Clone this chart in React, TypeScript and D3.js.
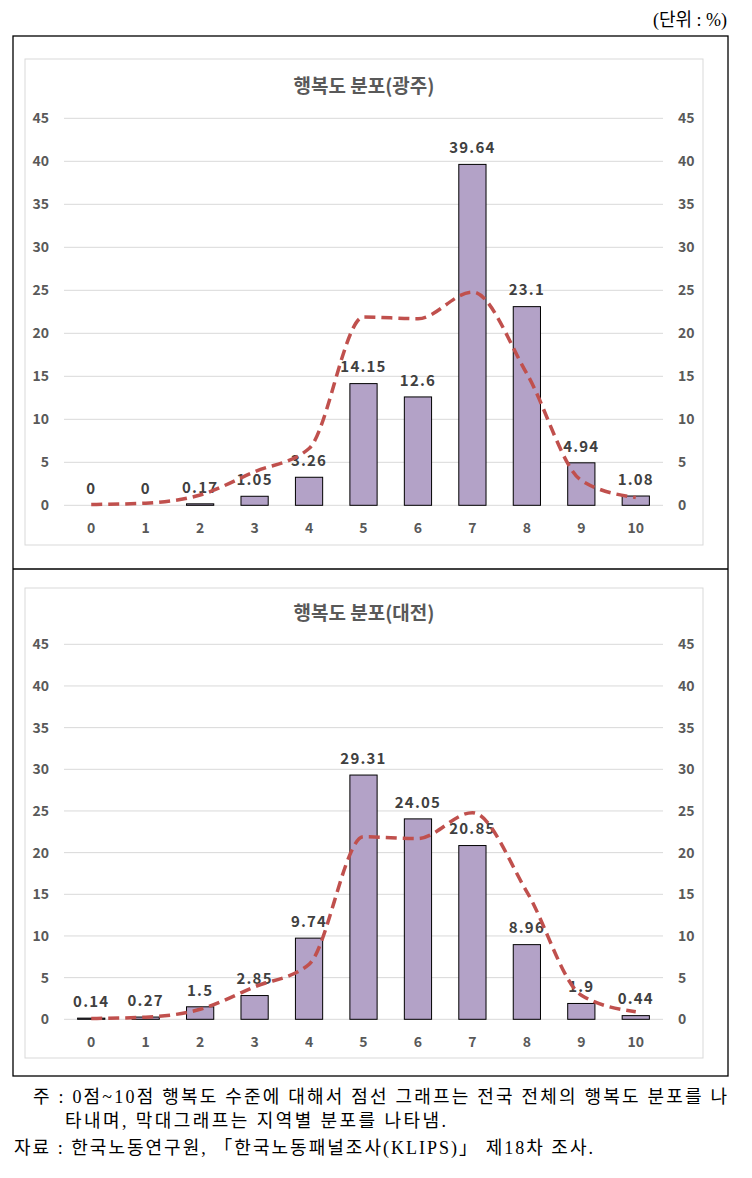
import React from "react";
import * as d3 from "d3";

const categories = ["0", "1", "2", "3", "4", "5", "6", "7", "8", "9", "10"];
const gwangjuValues = [0, 0, 0.17, 1.05, 3.26, 14.15, 12.6, 39.64, 23.1, 4.94, 1.08];
const daejeonValues = [0.14, 0.27, 1.5, 2.85, 9.74, 29.31, 24.05, 20.85, 8.96, 1.9, 0.44];
const nationalValues = [0.1, 0.25, 1.2, 3.9, 6.6, 21.9, 21.7, 24.8, 15.3, 2.9, 0.9];
const yTicks = [0, 5, 10, 15, 20, 25, 30, 35, 40, 45];
const titleGwangju = "행복도 분포(광주)";
const titleDaejeon = "행복도 분포(대전)";
const unitText = "(단위 : %)";
const note1 = "주 : 0점~10점 행복도 수준에 대해서 점선 그래프는 전국 전체의 행복도 분포를 나";
const note2 = "타내며, 막대그래프는 지역별 분포를 나타냄.";
const note3 = "자료 : 한국노동연구원, 「한국노동패널조사(KLIPS)」 제18차 조사.";

const SANS = "'Noto Sans CJK KR', 'Noto Sans', sans-serif";
const SERIF = "'Liberation Serif', 'DejaVu Serif', 'Noto Sans CJK KR', serif";

type ChartProps = {
  title: string;
  values: number[];
  frameTop: number;
  frameBottom: number;
  titleY: number;
  plotTop: number;
  plotBottom: number;
};

function Chart({ title, values, frameTop, frameBottom, titleY, plotTop, plotBottom }: ChartProps) {
  const x = d3.scaleBand<string>().domain(categories).range([64, 663]).paddingInner(0.5).paddingOuter(0.25);
  const y = d3.scaleLinear().domain([0, 45]).range([plotBottom, plotTop]);
  const line = d3
    .line<number>()
    .x((_, i) => (x(categories[i]) as number) + x.bandwidth() / 2)
    .y((d) => y(d))
    .curve(d3.curveMonotoneX);
  return (
    <g>
      <rect x={25} y={frameTop} width={678} height={frameBottom - frameTop} fill="#fff" stroke="#d9d9d9" strokeWidth={1} />
      <text x={364} y={titleY} dy="0.35em" textAnchor="middle" fontFamily={SANS} fontWeight={700} fontSize={19} fill="#595959">
        {title}
      </text>
      {yTicks.map((t) => (
        <g key={t}>
          <line x1={64} x2={663} y1={y(t)} y2={y(t)} stroke="#d9d9d9" strokeWidth={1} />
          <text x={49} y={y(t)} dy="0.35em" textAnchor="end" fontFamily={SANS} fontWeight={700} fontSize={14} fill="#595959">
            {t}
          </text>
          <text x={678} y={y(t)} dy="0.35em" textAnchor="start" fontFamily={SANS} fontWeight={700} fontSize={14} fill="#595959">
            {t}
          </text>
        </g>
      ))}
      {categories.map((c) => (
        <text key={c} x={(x(c) as number) + x.bandwidth() / 2} y={plotBottom + 22.5} dy="0.35em" textAnchor="middle" fontFamily={SANS} fontWeight={700} fontSize={14} fill="#595959">
          {c}
        </text>
      ))}
      {values.map((v, i) => (
        <rect
          key={i}
          x={x(categories[i]) as number}
          y={y(v)}
          width={x.bandwidth()}
          height={Math.max(0, plotBottom - y(v))}
          fill="#b3a2c7"
          stroke="#000"
          strokeWidth={1}
        />
      ))}
      {values.map((v, i) => (
        <text
          key={"l" + i}
          x={(x(categories[i]) as number) + x.bandwidth() / 2}
          y={y(v) - 16.5}
          dy="0.35em"
          textAnchor="middle"
          fontFamily={SANS}
          fontWeight={700}
          fontSize={15}
          letterSpacing={1.2}
          fill="#404040"
        >
          {String(v)}
        </text>
      ))}
      <path d={line(nationalValues) || ""} fill="none" stroke="#c0504d" strokeWidth={3.5} strokeDasharray="11,6" />
    </g>
  );
}

export default function App() {
  return (
    <svg width={752} height={1178} style={{ position: "absolute", left: 0, top: 0, background: "#fff" }}>
      <rect x={0} y={0} width={752} height={1178} fill="#fff" />
      <text x={727} y={20} dy="0.35em" textAnchor="end" fontFamily={SERIF} fontSize={18} fill="#000">
        {unitText}
      </text>
      <rect x={13} y={36} width={715} height={1040} fill="none" stroke="#000" strokeWidth={1.3} />
      <line x1={13} x2={728} y1={569} y2={569} stroke="#000" strokeWidth={1.3} />
      <Chart title={titleGwangju} values={gwangjuValues} frameTop={59} frameBottom={545} titleY={86} plotTop={118.3} plotBottom={505.3} />
      <Chart title={titleDaejeon} values={daejeonValues} frameTop={588} frameBottom={1058} titleY={613} plotTop={644.3} plotBottom={1019.3} />
      <text x={33} y={1103} fontFamily={SERIF} fontSize={18} fill="#000" textLength={694} lengthAdjust="spacing">
        {note1}
      </text>
      <text x={65} y={1127} fontFamily={SERIF} fontSize={18} fill="#000" textLength={381} lengthAdjust="spacing">
        {note2}
      </text>
      <text x={14} y={1154} fontFamily={SERIF} fontSize={18} fill="#000" textLength={579} lengthAdjust="spacing">
        {note3}
      </text>
    </svg>
  );
}
